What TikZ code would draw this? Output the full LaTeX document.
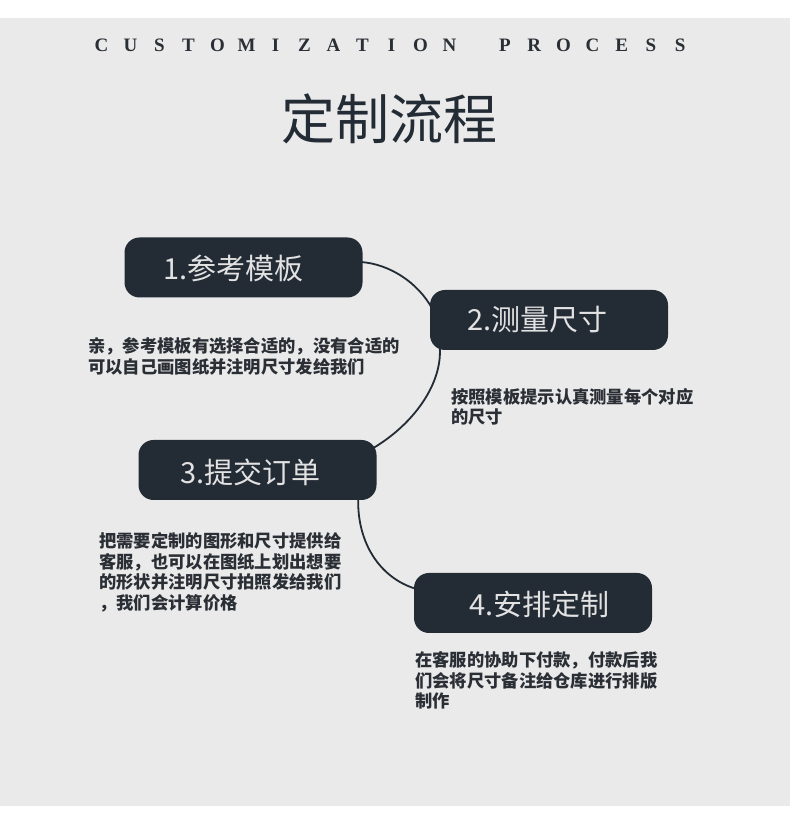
\documentclass[tikz,border=0pt]{standalone}
\usepackage{fontspec}
\setmainfont{Liberation Serif}
\newfontfamily\cjk{Noto Sans CJK SC}
\usepackage{tikz}
\usetikzlibrary{calc}

\definecolor{pagegrey}{HTML}{EAEAEA}
\definecolor{boxnavy}{HTML}{232B35}
\definecolor{boxtext}{HTML}{E2E2E2}
\definecolor{inkdark}{HTML}{2A2E35}

\pgfdeclarelayer{back}
\pgfdeclarelayer{lines}
\pgfsetlayers{back,lines,main}

\begin{document}
\begin{tikzpicture}[x=1pt,y=1pt,
	stepbox/.style={fill=boxnavy,rounded corners=15pt,minimum width=238pt,minimum height=60pt,inner sep=0pt},
	steptext/.style={anchor=west,inner sep=0pt,text=boxtext,font=\cjk\fontsize{29}{34}\selectfont},
	note/.style={anchor=north west,inner sep=0pt,align=left,text=inkdark,font=\cjk\bfseries\fontsize{17.3}{20.5}\selectfont},
	capletter/.style={anchor=base,inner sep=0pt,text=inkdark,font=\bfseries\fontsize{19}{19}\selectfont},
	link/.style={draw=boxnavy,line width=1.8pt}]

	\useasboundingbox (0,0) rectangle (790,813);
	\begin{pgfonlayer}{back}
		\fill[white] (0,0) rectangle (790,813);
		\fill[pagegrey] (0,7) rectangle (790,795);
	\end{pgfonlayer}

	% heading
	\foreach \ch [count=\i from 0] in {C,U,S,T,O,M,I,Z,A,T,I,O,N}
		\node[capletter] (wa\i) at (101.5+29*\i, 761) {\ch};
	\foreach \ch [count=\i from 0] in {P,R,O,C,E,S,S}
		\node[capletter] (wb\i) at (505+29.2*\i, 761) {\ch};
	\node[inner sep=0pt,text=boxnavy,font=\cjk\fontsize{54}{60}\selectfont] (title) at (389.5, 694.5) {定制流程};

	% steps
	\node[stepbox] (s1) at (243.5, 545.5) {};
	\node[stepbox] (s2) at (549, 493)     {};
	\node[stepbox] (s3) at (257.5, 343)   {};
	\node[stepbox] (s4) at (533, 210)     {};

	\node[steptext] (t1) at (163, 544.5) {1.参考模板};
	\node[steptext] (t2) at (467, 493)   {2.测量尺寸};
	\node[steptext] (t3) at (180, 340.5) {3.提交订单};
	\node[steptext] (t4) at (469, 208.5) {4.安排定制};

	\node[note] (n1) at (88, 475.6)  {亲，参考模板有选择合适的，没有合适的\\可以自己画图纸并注明尺寸发给我们};
	\node[note] (n2) at (451, 425.1) {按照模板提示认真测量每个对应\\的尺寸};
	\node[note] (n3) at (99, 280.6)  {把需要定制的图形和尺寸提供给\\客服，也可以在图纸上划出想要\\的形状并注明尺寸拍照发给我们\\，我们会计算价格};
	\node[note] (n4) at (415, 161.6) {在客服的协助下付款，付款后我\\们会将尺寸备注给仓库进行排版\\制作};

	% links
	\begin{pgfonlayer}{lines}
		\path[link] ($(s1.east)+(-2,5.5)$) .. controls (390,549) and (418,530) .. ($(s2.west)+(2,12)$);
		\path[link] ($(s2.south west)+(10,2)$) .. controls (442,430) and (415,390) .. ($(s3.north east)+(-3,-8)$);
		\path[link] ($(s3.south east)+(-18.5,2)$) .. controls (357,270) and (380,235) .. ($(s4.north west)+(2,-16)$);
	\end{pgfonlayer}

\end{tikzpicture}
\end{document}
